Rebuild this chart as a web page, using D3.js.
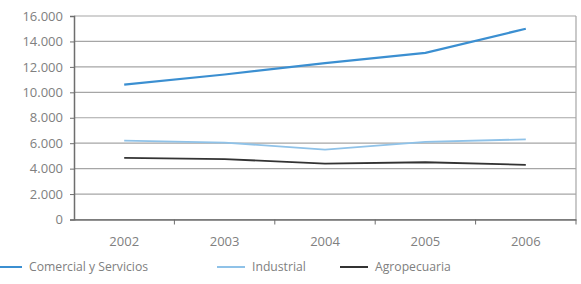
<!DOCTYPE html>
<html>
<head>
<meta charset="utf-8">
<script src="https://cdn.jsdelivr.net/npm/d3@7"></script>
<style>
  body { margin: 0; background: #fff; }
  text { font-family: "Open Sans", sans-serif; fill: #808080; }
</style>
</head>
<body>
<div id="container"></div>
<script>
const years = ["2002", "2003", "2004", "2005", "2006"]
const comercial = [10600, 11400, 12300, 13100, 15000]
const industrial = [6200, 6050, 5500, 6100, 6300]
const agropecuaria = [4850, 4750, 4400, 4500, 4300]
const yTicks = [0, 2000, 4000, 6000, 8000, 10000, 12000, 14000, 16000]

const series = [
    { name: "Comercial y Servicios", values: comercial, color: "#3b8fd1" },
    { name: "Industrial", values: industrial, color: "#8fc2e8" },
    { name: "Agropecuaria", values: agropecuaria, color: "#333333" }
]

const width = 581
const height = 284
const mLeft = 74, mRight = 576, mTop = 16, mBottom = 219.5

const svg = d3.select("#container").append("svg")
    .attr("width", width)
    .attr("height", height)

const x = d3.scaleBand().domain(years).range([mLeft, mRight])
const y = d3.scaleLinear().domain([0, 16000]).range([mBottom, mTop])

const fmt = d3.formatLocale({ decimal: ",", thousands: ".", grouping: [3], currency: ["", ""] }).format(",")

// grid
svg.append("g").selectAll("line")
    .data(yTicks)
    .enter().append("line")
    .attr("x1", mLeft).attr("x2", mRight)
    .attr("y1", d => y(d)).attr("y2", d => y(d))
    .attr("stroke", "#a6a6a6")
    .attr("stroke-width", 1.2)

// right border
svg.append("line")
    .attr("x1", mRight).attr("x2", mRight)
    .attr("y1", mTop).attr("y2", mBottom)
    .attr("stroke", "#a6a6a6").attr("stroke-width", 1.2)

// y axis
const yAxis = svg.append("g")
    .attr("transform", `translate(${mLeft},0)`)
    .call(d3.axisLeft(y).tickValues(yTicks).tickFormat(fmt).tickSize(4).tickPadding(7))
yAxis.select(".domain").attr("stroke", "#6e6e6e").attr("stroke-width", 1.5)
yAxis.selectAll(".tick line").attr("stroke", "#6e6e6e")
yAxis.selectAll("text").attr("font-size", 13).attr("fill", "#808080")

// x axis
const xAxis = svg.append("g")
    .attr("transform", `translate(0,${mBottom})`)
    .call(d3.axisBottom(x).tickSize(0).tickPadding(17))
xAxis.select(".domain").attr("stroke", "#6e6e6e").attr("stroke-width", 1.5)
xAxis.selectAll("text").attr("font-size", 13).attr("fill", "#808080")
xAxis.selectAll("line.sep")
    .data(years)
    .enter().append("line")
    .attr("class", "sep")
    .attr("x1", d => x(d) + x.bandwidth())
    .attr("x2", d => x(d) + x.bandwidth())
    .attr("y1", 0).attr("y2", 5)
    .attr("stroke", "#6e6e6e")

// lines
const line = d3.line()
    .x((d, i) => x(years[i]) + x.bandwidth() / 2)
    .y(d => y(d))

svg.append("g").selectAll("path")
    .data(series.slice().reverse())
    .enter().append("path")
    .attr("d", d => line(d.values))
    .attr("fill", "none")
    .attr("stroke", d => d.color)
    .attr("stroke-width", d => d.name === "Comercial y Servicios" ? 2.2 : 1.8)

// legend
const legendX = [0, 217, 340]
const legendLen = [22, 28, 28]
const legend = svg.append("g").selectAll("g")
    .data(series)
    .enter().append("g")
    .attr("transform", (d, i) => `translate(${legendX[i]},267)`)
legend.append("line")
    .attr("x1", 0).attr("x2", (d, i) => legendLen[i])
    .attr("stroke", d => d.color)
    .attr("stroke-width", 2)
legend.append("text")
    .attr("x", (d, i) => legendLen[i] + 7)
    .attr("dy", "0.35em")
    .attr("font-size", 12.2)
    .text(d => d.name)
</script>
</body>
</html>
